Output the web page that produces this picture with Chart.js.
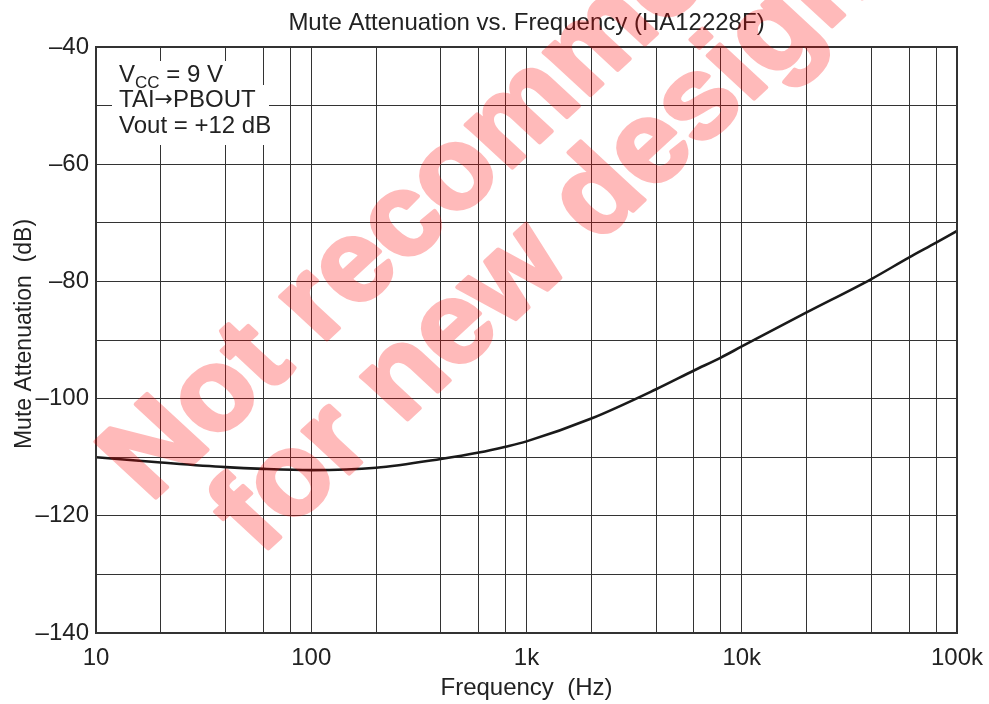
<!DOCTYPE html>
<html><head><meta charset="utf-8">
<script src="https://cdn.jsdelivr.net/npm/chart.js@4"></script>
<style>html,body{margin:0;padding:0;background:#fff}#wrap{width:989px;height:704px}</style>
</head><body><div id="wrap"><canvas id="c" width="989" height="704"></canvas></div>
<script>
// ---- data ----
const frequencyHz = [10, 20, 40, 60, 100, 200, 400, 600, 800, 1000, 2000, 4000, 6000, 8000, 10000, 20000, 40000, 60000, 80000, 100000];
const muteAttenuationDb = [-110.0, -110.9, -111.7, -112.0, -112.2, -111.8, -110.3, -109.2, -108.2, -107.3, -103.4, -98.4, -95.2, -93.0, -91.1, -85.3, -79.6, -75.9, -73.4, -71.4];
const xGridValues = [10, 20, 40, 60, 80, 100, 200, 400, 600, 800, 1000, 2000, 4000, 6000, 8000, 10000, 20000, 40000, 60000, 80000, 100000];
const xTickLabels = {10: '10', 100: '100', 1000: '1k', 10000: '10k', 100000: '100k'};
const yMin = -140, yMax = -40, yGridStep = 10, yLabelStep = 20;
const chartTitle = 'Mute Attenuation vs. Frequency (HA12228F)';
const xAxisTitle = 'Frequency  (Hz)';
const yAxisTitle = 'Mute Attenuation  (dB)';
const watermarkLines = ['Not recommended', 'for new designs'];

const FONT = '"Liberation Sans", Arial, Helvetica, sans-serif';
const TXT = '#222';

const decorPlugin = {
  id: 'decor',
  afterDraw(chart) {
    const ctx = chart.ctx, a = chart.chartArea;
    ctx.save();
    // frame
    ctx.strokeStyle = '#333';
    ctx.lineWidth = 2;
    ctx.strokeRect(a.left, a.top, a.right - a.left, a.bottom - a.top);
    // main title
    ctx.fillStyle = TXT;
    ctx.font = '24px ' + FONT;
    ctx.textAlign = 'center';
    ctx.textBaseline = 'alphabetic';
    ctx.fillText(chartTitle, (a.left + a.right) / 2, 30);
    // x title
    ctx.fillText(xAxisTitle, (a.left + a.right) / 2, 695);
    // y title
    ctx.save();
    ctx.font = '23px ' + FONT;
    ctx.translate(31, 334);
    ctx.rotate(-Math.PI / 2);
    ctx.fillText(yAxisTitle, 0, 0);
    ctx.restore();
    // conditions note with white backgrounds
    ctx.fillStyle = '#fff';
    ctx.fillRect(112, 61, 118, 24);
    ctx.fillRect(112, 85, 157, 26);
    ctx.fillRect(112, 111, 161, 34);
    ctx.fillStyle = TXT;
    ctx.textAlign = 'left';
    let x = 119;
    ctx.font = '24px ' + FONT;
    ctx.fillText('V', x, 82); x += ctx.measureText('V').width;
    ctx.font = '17px ' + FONT;
    ctx.fillText('CC', x, 88); x += ctx.measureText('CC').width;
    ctx.font = '24px ' + FONT;
    ctx.fillText(' = 9 V', x, 82);
    x = 119;
    ctx.fillText('TAI', x, 107); x += ctx.measureText('TAI').width;
    ctx.font = '22px "DejaVu Sans", sans-serif';
    ctx.fillText('\u2192', x, 106); x += ctx.measureText('\u2192').width;
    ctx.font = '24px ' + FONT;
    ctx.fillText('PBOUT', x, 107);
    ctx.fillText('Vout = +12 dB', 119, 133);
    // watermark (opaque on an offscreen layer, then composited translucently)
    const off = document.createElement('canvas');
    off.width = chart.width; off.height = chart.height;
    const o = off.getContext('2d');
    o.fillStyle = o.strokeStyle = '#f00';
    o.lineWidth = 4; o.lineJoin = 'round';
    o.font = 'bold 115px ' + FONT;
    o.textBaseline = 'alphabetic';
    const starts = [[150, 503], [260, 556]];
    watermarkLines.forEach((t, i) => {
      o.save();
      o.translate(starts[i][0], starts[i][1]);
      o.scale(1.08, 1);
      o.rotate(-Math.PI / 4);
      o.fillText(t, 0, 0);
      o.strokeText(t, 0, 0);
      o.restore();
    });
    ctx.globalAlpha = 0.27;
    ctx.drawImage(off, 0, 0);
    ctx.restore();
  }
};

new Chart(document.getElementById('c'), {
  type: 'line',
  data: {
    datasets: [{
      data: frequencyHz.map((f, i) => ({x: f, y: muteAttenuationDb[i]})),
      borderColor: '#1a1a1a',
      borderWidth: 2.6,
      pointRadius: 0,
      fill: false,
      cubicInterpolationMode: 'monotone'
    }]
  },
  options: {
    responsive: false,
    animation: false,
    devicePixelRatio: 1,
    layout: {padding: {left: 0, top: 47, right: 32, bottom: 0}},
    plugins: {legend: {display: false}, title: {display: false}, tooltip: {enabled: false}},
    scales: {
      x: {
        type: 'logarithmic',
        min: 10, max: 100000,
        afterBuildTicks(s) { s.ticks = xGridValues.map(v => ({value: v})); },
        afterFit(s) { s.height = 71; s.paddingLeft = 0; s.paddingRight = 0; },
        grid: {color: '#333', lineWidth: 1, drawTicks: false},
        border: {display: false},
        ticks: {
          autoSkip: false, maxRotation: 0, padding: 11, color: TXT,
          font: {family: FONT, size: 24},
          callback: v => xTickLabels[v] || ''
        }
      },
      y: {
        min: yMin, max: yMax,
        afterFit(s) { s.width = 96; s.paddingTop = 0; s.paddingBottom = 0; },
        grid: {color: '#333', lineWidth: 1, drawTicks: false},
        border: {display: false},
        ticks: {
          stepSize: yGridStep, padding: 7, color: TXT,
          font: {family: FONT, size: 24},
          callback: v => (v % yLabelStep === 0 ? '\u2013' + Math.abs(v) : '')
        }
      }
    }
  },
  plugins: [decorPlugin]
});
</script></body></html>
